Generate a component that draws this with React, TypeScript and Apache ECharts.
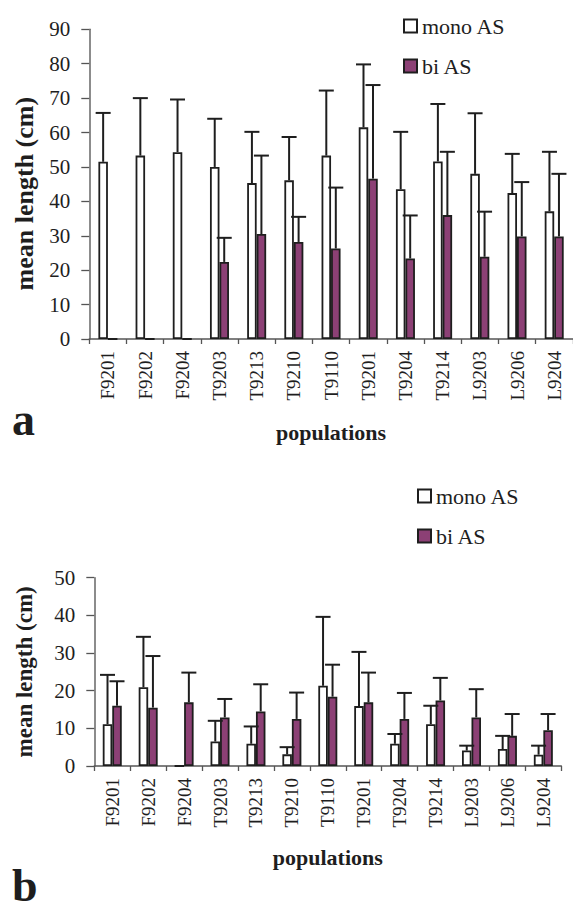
import React, { useEffect, useRef } from "react";
import * as echarts from "echarts";

const categories = ["F9201", "F9202", "F9204", "T9203", "T9213", "T9210", "T9110", "T9201", "T9204", "T9214", "L9203", "L9206", "L9204"];

// panel a
const monoA = [51.5, 53.3, 54.3, 50.0, 45.3, 46.1, 53.3, 61.5, 43.5, 51.6, 48.0, 42.4, 37.1];
const monoASd = [14.2, 16.7, 15.3, 14.0, 14.9, 12.6, 18.9, 18.3, 16.7, 16.7, 17.6, 11.4, 17.3];
const biA = [0, 0, 0, 22.4, 30.5, 28.2, 26.3, 46.6, 23.4, 36.0, 23.9, 29.8, 29.8];
const biASd = [0, 0, 0, 7.0, 22.8, 7.3, 17.7, 27.2, 12.5, 18.4, 13.1, 15.8, 18.2];

// panel b
const monoB = [11.1, 20.9, 0, 6.5, 5.9, 3.1, 21.3, 15.9, 5.9, 11.1, 4.1, 4.5, 3.0];
const monoBSd = [13.1, 13.4, 0, 5.5, 4.6, 1.9, 18.3, 14.4, 2.6, 4.9, 1.3, 3.5, 2.4];
const biB = [16.0, 15.5, 16.9, 12.9, 14.5, 12.5, 18.4, 16.9, 12.5, 17.4, 12.9, 8.0, 9.5];
const biBSd = [6.5, 13.7, 7.9, 4.9, 7.2, 7.0, 8.5, 7.9, 6.9, 6.0, 7.5, 5.8, 4.3];

const seriesNames = ["mono AS", "bi AS"];
const yTicksA = { min: 0, max: 90, interval: 10 };
const yTicksB = { min: 0, max: 50, interval: 10 };

const FONT = "Liberation Serif";
const INK = "#1e1e1e";
const PURPLE = "#8c4075";
const BAR_W = 9.5;

function errSeries(means: number[], sds: number[], side: number, ai: number) {
  return {
    type: "custom",
    name: "sd" + ai + side,
    xAxisIndex: ai,
    yAxisIndex: ai,
    silent: true,
    z: 5,
    encode: { x: 0, y: [1, 2] },
    data: means.map((m, i) => [i, m, m + sds[i]]).filter((d) => d[2] > d[1]),
    renderItem: (params: any, api: any) => {
      const i = api.value(0);
      const m = api.value(1);
      const u = api.value(2);
      const p0 = api.coord([i, m]);
      const p1 = api.coord([i, u]);
      const x = p0[0] + side * (BAR_W / 2);
      const st = { stroke: INK, lineWidth: 2 };
      return {
        type: "group",
        children: [
          { type: "line", shape: { x1: x, y1: p0[1], x2: x, y2: p1[1] }, style: st },
          { type: "line", shape: { x1: x - 7.5, y1: p1[1], x2: x + 7.5, y2: p1[1] }, style: st },
        ],
      };
    },
  };
}

function barSeries(name: string, data: number[], color: string, ai: number) {
  return {
    type: "bar",
    name,
    xAxisIndex: ai,
    yAxisIndex: ai,
    data,
    barWidth: BAR_W,
    barGap: "0%",
    itemStyle: { color, borderColor: INK, borderWidth: 1.8 },
    z: 3,
  };
}

function xAxisCfg(ai: number, gap: number) {
  return {
    type: "category",
    gridIndex: ai,
    data: categories,
    name: "populations",
    nameLocation: "middle",
    nameGap: gap,
    nameTextStyle: { fontFamily: FONT, fontSize: 22, fontWeight: "bold", color: INK },
    axisLine: { lineStyle: { color: "#555", width: 1.5 } },
    axisTick: { show: true, length: 5, interval: 0, lineStyle: { color: "#555", width: 1.3 } },
    axisLabel: { rotate: 90, interval: 0, margin: 12, fontFamily: FONT, fontSize: 19, color: INK },
    splitLine: { show: false },
  };
}

function yAxisCfg(ai: number, ticks: any, gap: number, size: number, pad: number[]) {
  return {
    type: "value",
    gridIndex: ai,
    min: ticks.min,
    max: ticks.max,
    interval: ticks.interval,
    name: "mean length (cm)",
    nameLocation: "middle",
    nameRotate: 90,
    nameGap: gap,
    nameTextStyle: { fontFamily: FONT, fontSize: size, fontWeight: "bold", color: INK, padding: pad },
    axisLine: { show: true, lineStyle: { color: "#666", width: 1.5 } },
    axisTick: { show: true, length: 8, lineStyle: { color: "#555", width: 1.3 } },
    axisLabel: { margin: 19, fontFamily: FONT, fontSize: 21, color: INK },
    splitLine: { show: false },
  };
}

function legendCfg(left: number, top: number) {
  return {
    left,
    top,
    orient: "vertical",
    icon: "rect",
    itemWidth: 13,
    itemHeight: 13,
    itemGap: 18,
    data: seriesNames,
    selectedMode: false,
    textStyle: { fontFamily: FONT, fontSize: 22, color: INK, lineHeight: 22 },
  };
}

export default function App() {
  const ref = useRef<HTMLDivElement>(null);
  useEffect(() => {
    if (!ref.current) return;
    const chart = echarts.init(ref.current, null, { renderer: "svg" });
    chart.setOption({
      animation: false,
      backgroundColor: "#fff",
      textStyle: { fontFamily: FONT },
      grid: [
        { left: 89.3, top: 29.3, width: 483.5, height: 309.7 },
        { left: 94.3, top: 577.7, width: 467, height: 188.3 },
      ],
      legend: [legendCfg(398, 10), legendCfg(412, 480)],
      xAxis: [xAxisCfg(0, 82), xAxisCfg(1, 80)],
      yAxis: [
        yAxisCfg(0, yTicksA, 52, 26, [0, 19, 0, 0]),
        yAxisCfg(1, yTicksB, 58, 23, [0, 0, 0, 0]),
      ],
      series: [
        barSeries(seriesNames[0], monoA, "#fff", 0),
        barSeries(seriesNames[1], biA, PURPLE, 0),
        errSeries(monoA, monoASd, -1, 0),
        errSeries(biA, biASd, 1, 0),
        barSeries(seriesNames[0], monoB, "#fff", 1),
        barSeries(seriesNames[1], biB, PURPLE, 1),
        errSeries(monoB, monoBSd, -1, 1),
        errSeries(biB, biBSd, 1, 1),
      ],
      graphic: [
        { type: "text", left: 12, top: 396, style: { text: "a", fontFamily: FONT, fontWeight: "bold", fontSize: 46, fill: INK } },
        { type: "text", left: 12, top: 862, style: { text: "b", fontFamily: FONT, fontWeight: "bold", fontSize: 46, fill: INK } },
      ],
    });
    return () => chart.dispose();
  }, []);
  return <div ref={ref} style={{ position: "absolute", left: 0, top: 0, width: 573, height: 915 }} />;
}
